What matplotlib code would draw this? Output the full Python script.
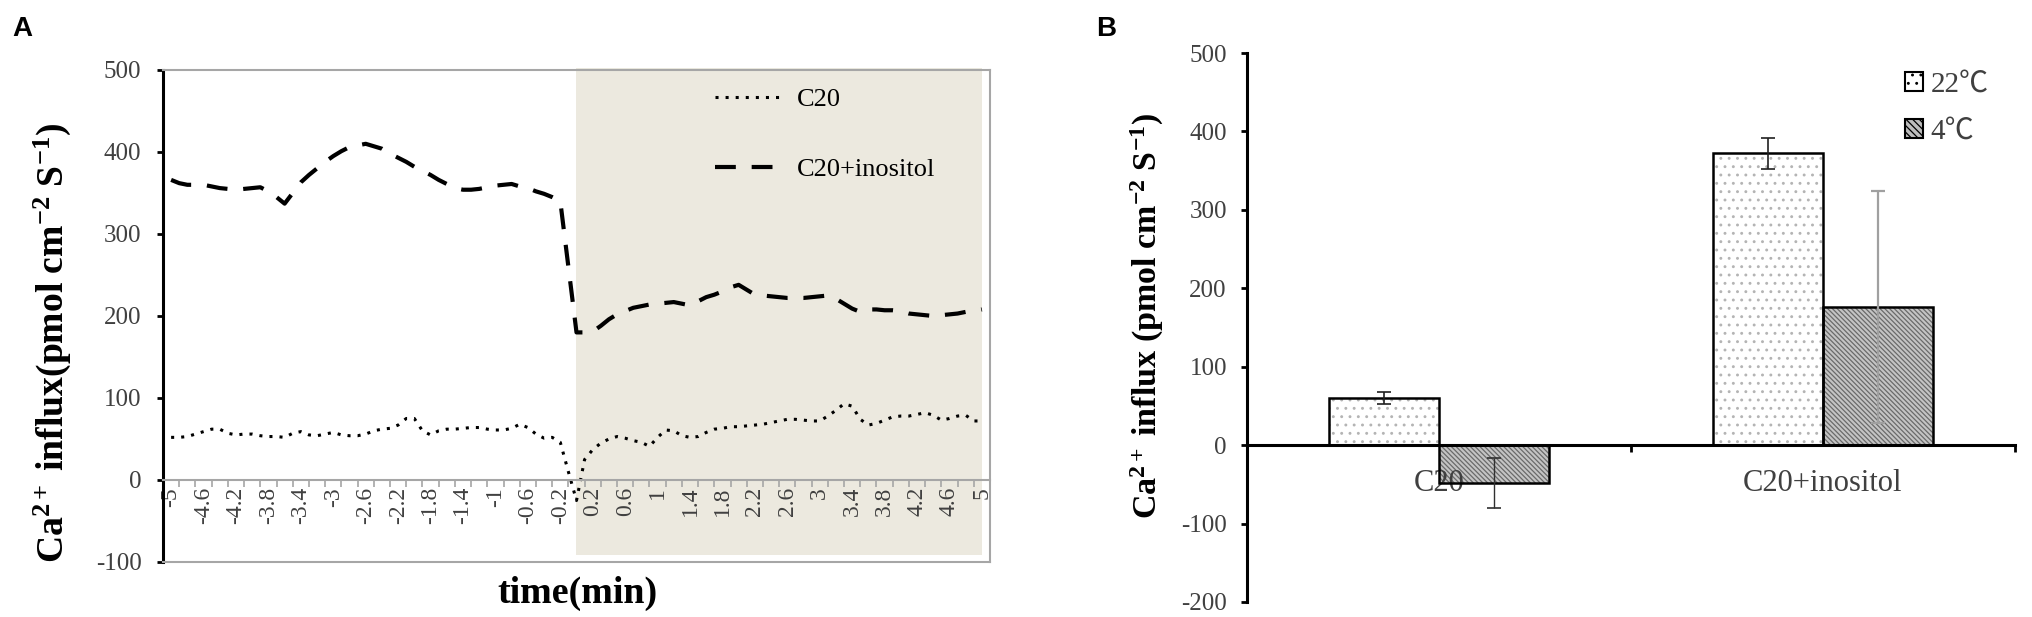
import numpy as np
import matplotlib
matplotlib.use('Agg')
import matplotlib.pyplot as plt
from matplotlib.patches import Rectangle, Patch

plt.rcParams['font.family'] = ['Liberation Serif', 'Noto Sans CJK SC', 'DejaVu Sans']
plt.rcParams['mathtext.fontset'] = 'custom'
plt.rcParams['mathtext.rm'] = 'Liberation Serif'
plt.rcParams['mathtext.bf'] = 'Liberation Serif:bold'
plt.rcParams['mathtext.it'] = 'Liberation Serif:italic'
plt.rcParams['axes.unicode_minus'] = False
plt.rcParams['hatch.linewidth'] = 0.9

# ---- panel A data: time course (min), 0.1 min steps ----
time_min = np.linspace(-5, 5, 101)
c20 = [52, 52, 53, 56, 59, 62, 62, 57, 55, 56,
       56, 54, 53, 53, 52, 57, 59, 55, 54, 56,
       58, 55, 54, 54, 56, 60, 62, 63, 67, 75,
       75, 60, 55, 60, 62, 62, 63, 64, 64, 62,
       61, 61, 63, 68, 64, 56, 51, 52, 46, 10,
       -25, 25, 37, 45, 50, 53, 51, 48, 46, 41,
       52, 61, 60, 54, 52, 53, 58, 62, 63, 65,
       65, 66, 67, 68, 70, 72, 74, 74, 73, 72,
       72, 78, 85, 93, 90, 74, 67, 69, 73, 77,
       78, 78, 80, 82, 79, 73, 75, 78, 79, 72,
       72]
c20_inositol = [366, 362, 360, 360, 360, 358, 356, 355, 354, 355,
                356, 357, 352, 345, 337, 350, 363, 372, 380, 388,
                395, 401, 406, 408, 410, 407, 404, 398, 393, 388,
                382, 377, 372, 366, 361, 356, 354, 354, 355, 357,
                359, 360, 361, 358, 356, 352, 349, 345, 340, 260,
                180, 180, 181, 188, 196, 202, 206, 210, 212, 214,
                215, 216, 217, 215, 213, 218, 223, 226, 230, 235,
                238, 232, 226, 225, 224, 223, 222, 222, 222, 223,
                224, 225, 221, 215, 209, 205, 208, 208, 207, 207,
                206, 203, 202, 201, 200, 201, 202, 203, 205, 206,
                208]
a_tick_labels = ['-5', '-4.6', '-4.2', '-3.8', '-3.4', '-3', '-2.6', '-2.2', '-1.8',
                 '-1.4', '-1', '-0.6', '-0.2', '0.2', '0.6', '1', '1.4', '1.8', '2.2',
                 '2.6', '3', '3.4', '3.8', '4.2', '4.6', '5']
a_yticks = [-100, 0, 100, 200, 300, 400, 500]

# ---- panel B data: mean influx with error ----
groups = ['C20', 'C20+inositol']
temps = ['22\u2103', '4\u2103']
mean_22 = [60, 372]
err_22 = [8, 20]
mean_4 = [-48, 176]
err_4 = [32, 148]
b_yticks = [-200, -100, 0, 100, 200, 300, 400, 500]

W, H = 2033, 617
fig = plt.figure(figsize=(W / 100, H / 100), dpi=100)
tick_col = '#404040'
gray = '#a6a6a6'

# ================= Panel A =================
axA = fig.add_axes([163 / W, 1 - 562 / H, 827 / W, 492 / H])
axA.set_xlim(-5.1, 5.1)
axA.set_ylim(-100, 500)
axA.add_patch(Rectangle((0, -91), 5, 594, facecolor='#ece9df', edgecolor='none',
                        zorder=0, clip_on=False))
axA.plot(time_min, c20, color='black', lw=2.2, dashes=(1, 2.3),
         dash_capstyle='butt', label='C20')
axA.plot(time_min, c20_inositol, color='black', lw=3.0, dashes=(5, 3.8),
         dash_capstyle='butt', label='C20+inositol')

for s in ['top', 'right', 'bottom']:
    axA.spines[s].set_color(gray)
    axA.spines[s].set_linewidth(1.5)
axA.spines['bottom'].set_position(('data', 0))
axA.spines['left'].set_linewidth(2.2)
axA.axhline(-100, color=gray, lw=1.5, clip_on=False, zorder=3)

axA.set_yticks(a_yticks)
axA.tick_params(axis='y', direction='out', length=4.5, width=2, color='black',
                labelsize=18, labelcolor=tick_col, pad=11)
axA.set_xticks([float(s) for s in a_tick_labels])
axA.set_xticklabels(a_tick_labels, rotation=90)
axA.tick_params(axis='x', which='major', length=0, labelsize=17,
                labelcolor=tick_col, pad=5)
axA.set_xticks(np.linspace(-5.1, 5.1, 52), minor=True)
axA.tick_params(axis='x', which='minor', direction='out', length=5, width=1.2,
                color=gray)

axA.legend(loc='upper left', bbox_to_anchor=(715 / W, 1 - 88 / H),
           bbox_transform=fig.transFigure, frameon=False, fontsize=19,
           handlelength=2.65, handletextpad=0.45, labelspacing=1.75,
           borderpad=0, borderaxespad=0)

ylabA = fig.text(52 / W, 1 - 343 / H,
                 r'Ca$^{\mathbf{2+}}$ influx(pmol cm$^{\mathbf{-2}}$ S$^{\mathbf{-1}}$)',
                 rotation=90, ha='center', va='center', fontsize=22, fontweight='bold')
xlabA = fig.text(577 / W, 1 - 593 / H, 'time(min)', ha='center', va='center',
                 fontsize=24, fontweight='bold')
fig.text(12 / W, 1 - 29 / H, 'A', ha='left', va='center', fontsize=20,
         fontweight='bold', family='Liberation Sans')

# ================= Panel B =================
axB = fig.add_axes([1247 / W, 1 - 602 / H, 768 / W, 549 / H])
x = np.arange(len(groups))
bw = 0.287
axB.set_xlim(-0.5, 1.5)
axB.set_ylim(-200, 500)

# hatch layers
axB.bar(x - bw / 2, mean_22, bw, facecolor='white', edgecolor='#b4b4b4',
        hatch='..', linewidth=0, zorder=1)
axB.bar(x + bw / 2, mean_4, bw, facecolor='#c4c4c4', edgecolor='#6a6a6a',
        hatch='\\\\\\\\\\\\\\', linewidth=0, zorder=1)
# outlines
axB.bar(x - bw / 2, mean_22, bw, fill=False, edgecolor='black', linewidth=1.8, zorder=2)
axB.bar(x + bw / 2, mean_4, bw, fill=False, edgecolor='black', linewidth=1.8, zorder=2)

axB.errorbar(x - bw / 2, mean_22, yerr=err_22, fmt='none', ecolor='#202020',
             elinewidth=1.2, capsize=5, capthick=1.2, zorder=4)
axB.errorbar(x[:1] + bw / 2, mean_4[:1], yerr=err_4[:1], fmt='none', ecolor='#303030',
             elinewidth=1.0, capsize=5, capthick=1.2, zorder=4)
axB.errorbar(x[1:] + bw / 2, mean_4[1:], yerr=err_4[1:], fmt='none', ecolor='#a0a0a0',
             elinewidth=1.6, capsize=5, capthick=1.6, zorder=4)

axB.spines['top'].set_visible(False)
axB.spines['right'].set_visible(False)
axB.spines['left'].set_linewidth(2.2)
axB.spines['bottom'].set_linewidth(2.2)
axB.spines['bottom'].set_position(('data', 0))
axB.spines['bottom'].set_zorder(3)

axB.set_yticks(b_yticks)
axB.tick_params(axis='y', direction='out', length=4.5, width=2, color='black',
                labelsize=18, labelcolor=tick_col, pad=10)
axB.set_xticks(x)
axB.set_xticklabels(groups)
axB.tick_params(axis='x', which='major', length=0, labelsize=22,
                labelcolor=tick_col, pad=17)
axB.set_xticks([0.5, 1.5], minor=True)
axB.tick_params(axis='x', which='minor', direction='out', length=5, width=2,
                color='black')

handles = [Patch(facecolor='white', edgecolor='black', hatch='..', linewidth=1.5),
           Patch(facecolor='#bdbdbd', edgecolor='black', hatch='\\\\\\\\\\', linewidth=1.5)]
axB.legend(handles, temps, loc='upper left', bbox_to_anchor=(1905 / W, 1 - 72 / H),
           bbox_transform=fig.transFigure, frameon=False, fontsize=21,
           handlelength=0.62, handleheight=0.62, handletextpad=0.25,
           labelspacing=0.7, borderpad=0, borderaxespad=0, labelcolor=tick_col)

ylabB = fig.text(1147 / W, 1 - 316 / H,
                 r'Ca$^{\mathbf{2+}}$ influx (pmol cm$^{\mathbf{-2}}$ S$^{\mathbf{-1}}$)',
                 rotation=90, ha='center', va='center', fontsize=22, fontweight='bold')
fig.text(1096 / W, 1 - 29 / H, 'B', ha='left', va='center', fontsize=20,
         fontweight='bold', family='Liberation Sans')

# size the axis titles to the lengths measured on the original
fig.canvas.draw()
r = fig.canvas.get_renderer()
for t, target, use_h in [(ylabA, 440, True), (ylabB, 406, True), (xlabA, 161, False)]:
    bb = t.get_window_extent(r)
    size = bb.height if use_h else bb.width
    t.set_fontsize(t.get_fontsize() * target / size)

fig.savefig('out.png', dpi=100)
